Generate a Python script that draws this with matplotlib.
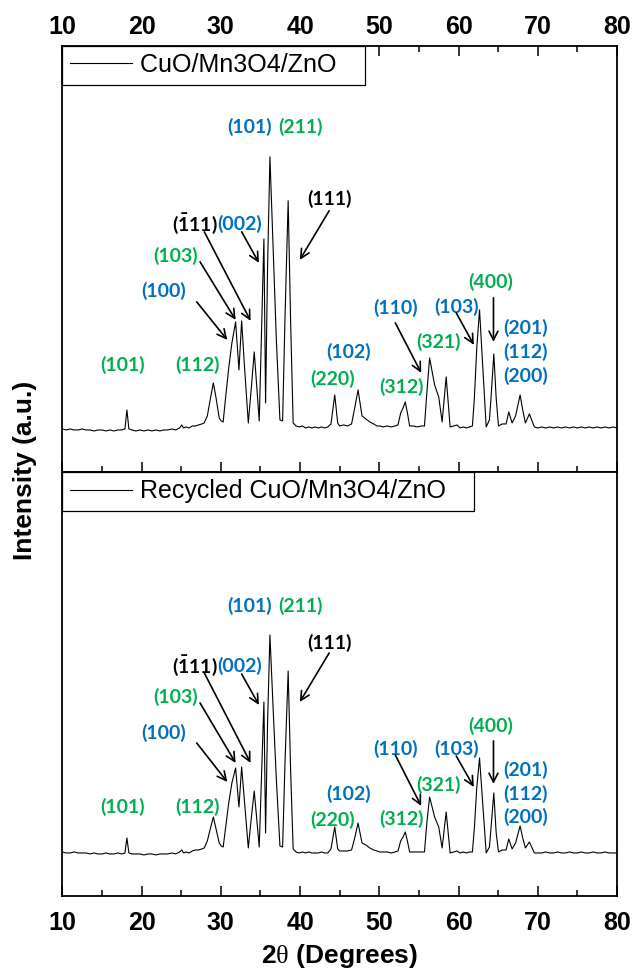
import matplotlib
matplotlib.use("Agg")
import matplotlib.pyplot as plt
from matplotlib.ticker import MultipleLocator

# XRD patterns: 2theta grid and intensities (a.u.) for fresh and recycled catalyst
two_theta = [10.0, 10.5, 11.0, 11.5, 12.0, 12.5, 13.0, 13.5, 14.0, 14.5, 15.0, 15.5,
             16.0, 16.5, 17.0, 17.5, 17.9, 18.15, 18.4, 18.8, 19.3, 19.8, 20.3, 20.8,
             21.3, 21.8, 22.3, 22.8, 23.3, 23.8, 24.3, 24.8, 25.07, 25.3, 25.6, 26.0,
             26.4, 26.8, 27.2, 27.6, 27.9, 28.3, 28.7, 29.06, 29.4, 29.8, 30.05, 30.3,
             30.6, 31.0, 31.4, 31.87, 32.29, 32.63, 33.0, 33.47, 33.85, 34.22, 34.55, 34.85,
             35.15, 35.44, 35.65, 35.9, 36.2, 36.6, 37.0, 37.46, 37.8, 38.1, 38.5, 38.8,
             39.13, 39.5, 39.9, 40.3, 40.7, 41.1, 41.5, 41.9, 42.3, 42.7, 43.1, 43.5,
             43.9, 44.38, 44.75, 45.0, 45.5, 46.0, 46.5, 46.9, 47.32, 47.82, 48.3, 48.8,
             49.3, 49.7, 50.05, 50.5, 51.0, 51.5, 52.0, 52.36, 52.7, 53.0, 53.28, 53.55,
             53.83, 54.3, 54.8, 55.3, 55.7, 56.0, 56.35, 56.98, 57.5, 57.93, 58.44, 58.94,
             59.4, 59.8, 60.2, 60.6, 61.0, 61.4, 61.75, 62.0, 62.3, 62.65, 63.0, 63.49,
             63.9, 64.1, 64.45, 64.75, 65.04, 65.5, 66.0, 66.34, 66.76, 67.2, 67.77, 68.1,
             68.44, 68.94, 69.57, 70.0, 70.5, 71.0, 71.5, 72.0, 72.5, 73.0, 73.5, 74.0,
             74.5, 75.0, 75.5, 76.0, 76.5, 77.0, 77.5, 78.0, 78.5, 79.0, 79.5, 80.0]

fresh = [39, 38, 39, 38, 38, 39, 38, 38, 37, 38, 38, 37,
         38, 37, 38, 38, 39, 58, 39, 38, 37, 38, 37, 38,
         37, 38, 37, 38, 38, 39, 38, 40, 43, 40, 41, 40,
         42, 42, 43, 44, 45, 52, 70, 85, 70, 50, 47, 46,
         70, 100, 125, 146, 98, 147, 100, 45, 80, 116, 80, 47,
         140, 229, 65, 200, 311, 220, 130, 48, 47, 150, 267, 150,
         45, 42, 41, 42, 40, 41, 40, 41, 40, 41, 40, 41,
         44, 73, 45, 42, 43, 42, 44, 60, 78, 52, 49, 46,
         44, 42, 42, 41, 42, 41, 42, 43, 55, 60, 66, 55,
         42, 42, 41, 42, 42, 75, 110, 83, 71, 46, 91, 41,
         42, 43, 40, 41, 40, 41, 42, 70, 120, 158, 110, 41,
         48, 70, 114, 70, 42, 44, 44, 56, 45, 52, 73, 58,
         45, 54, 41, 40, 41, 40, 41, 40, 41, 40, 41, 40,
         41, 40, 41, 40, 41, 40, 41, 40, 41, 40, 41, 40]

recycled = [41, 40, 40, 41, 40, 40, 40, 39, 40, 39, 39, 40,
            39, 39, 40, 39, 40, 55, 40, 39, 39, 39, 38, 39,
            39, 38, 39, 39, 39, 40, 39, 41, 43, 40, 41, 40,
            42, 43, 43, 44, 45, 52, 65, 76, 64, 50, 47, 46,
            65, 90, 110, 125, 86, 126, 90, 45, 75, 102, 72, 46,
            120, 191, 60, 170, 258, 185, 115, 47, 46, 130, 222, 125,
            44, 41, 40, 41, 40, 41, 40, 40, 40, 41, 40, 40,
            44, 66, 44, 42, 42, 42, 43, 55, 70, 50, 48, 45,
            43, 42, 41, 41, 41, 40, 41, 42, 52, 56, 61, 52,
            41, 41, 41, 41, 41, 70, 96, 76, 66, 45, 81, 40,
            41, 42, 40, 41, 40, 41, 41, 65, 105, 135, 95, 40,
            46, 65, 100, 60, 41, 43, 43, 54, 44, 50, 67, 55,
            45, 51, 40, 40, 40, 41, 40, 40, 41, 40, 40, 41,
            40, 40, 41, 40, 40, 41, 40, 40, 41, 40, 40, 40]

series_names = ["CuO/Mn3O4/ZnO", "Recycled CuO/Mn3O4/ZnO"]

# reflection labels: text, colour key
hkl_labels = ["(101)", "(211)", "(111)", r"$\mathbf{(\bar{1}11)}$", "(002)", "(103)",
              "(100)", "(101)", "(112)", "(220)", "(102)", "(110)", "(312)", "(321)",
              "(103)", "(400)", "(201)", "(112)", "(200)"]
hkl_colors = ["b", "g", "k", "k", "b", "g", "b", "g", "g", "g", "b", "b", "g", "g",
              "b", "g", "b", "b", "b"]

BLUE = "#0070C0"
GREEN = "#00B050"
cmap = {"b": BLUE, "g": GREEN, "k": "black"}

# label positions (2theta, intensity) in each panel
label_pos = [
    [(33.68, 341), (40.06, 341), (43.75, 269), (26.75, 244), (32.33, 244), (24.3, 212),
     (22.76, 177), (17.64, 103), (27.09, 103), (44.1, 89), (46.18, 116), (52.02, 160),
     (52.78, 81), (57.52, 126), (59.79, 161), (64.0, 186), (68.44, 140), (68.44, 116),
     (68.44, 92)],
    [(33.68, 287), (40.06, 287), (43.75, 250), (26.75, 227), (32.33, 227), (24.3, 196),
     (22.76, 160), (17.64, 86), (27.09, 86), (44.1, 73), (46.18, 99), (52.02, 144),
     (52.78, 74), (57.52, 108), (59.79, 144), (64.0, 167), (68.44, 123), (68.44, 99),
     (68.44, 76)],
]

# arrows (tail, head) in each panel
arrow_pos = [
    [((26.96, 166), (30.82, 128)), ((27.38, 206), (31.87, 148)),
     ((27.92, 236), (33.76, 147)), ((32.63, 236), (34.81, 205)),
     ((43.67, 257), (39.97, 208)), ((52.02, 145), (55.29, 95)),
     ((59.71, 155), (61.93, 123)), ((64.41, 170), (64.41, 126))],
    [((26.96, 150), (30.82, 111)), ((27.38, 190), (31.87, 130)),
     ((27.92, 220), (33.76, 130)), ((32.63, 219), (34.81, 188)),
     ((43.67, 240), (39.97, 191)), ((52.02, 138), (55.29, 87)),
     ((59.71, 137), (61.93, 106)), ((64.41, 152), (64.41, 109))],
]

plt.rcParams["font.family"] = ["Liberation Sans", "DejaVu Sans"]
plt.rcParams["mathtext.fontset"] = "custom"
plt.rcParams["mathtext.rm"] = "Liberation Serif"
plt.rcParams["mathtext.bf"] = "Lato:bold"

fig = plt.figure(figsize=(6.32, 9.76), dpi=100)
ax1 = fig.add_axes([0.0986, 0.5164, 0.8777, 0.4368])
ax2 = fig.add_axes([0.0986, 0.0820, 0.8777, 0.4344])

panels = [(ax1, fresh, (-4, 422)), (ax2, recycled, (-3, 421))]

for k, (ax, y, ylim) in enumerate(panels):
    ax.plot(two_theta, y, color="black", lw=0.8, label=series_names[k] + "   ")
    ax.set_xlim(10, 80)
    ax.set_ylim(*ylim)
    ax.set_yticks([])
    ax.xaxis.set_major_locator(MultipleLocator(10))
    ax.xaxis.set_minor_locator(MultipleLocator(5))
    for s in ax.spines.values():
        s.set_linewidth(1.3)

    leg = ax.legend(loc="upper left", borderaxespad=0, fancybox=False,
                    edgecolor="black", framealpha=1, fontsize=18,
                    handlelength=2.5, handletextpad=0.3, borderpad=0.3)
    leg.get_frame().set_linewidth(0.9)

    for txt, c, (px, py) in zip(hkl_labels, hkl_colors, label_pos[k]):
        ax.text(px, py, txt, color=cmap[c], fontsize=14, fontweight="bold",
                family="Lato", ha="center", va="center")

    for tail, head in arrow_pos[k]:
        ax.annotate("", xy=head, xytext=tail,
                    arrowprops=dict(arrowstyle="->", color="black", lw=1.2,
                                    mutation_scale=16, shrinkA=0, shrinkB=0))

tick_font = {"family": ["Liberation Sans Narrow", "Liberation Sans"],
             "weight": "bold", "size": 18}

ax1.tick_params(axis="x", which="both", direction="in", top=True, bottom=True,
                labeltop=True, labelbottom=False, width=1.1, pad=5)
ax1.tick_params(axis="x", which="major", length=7)
ax1.tick_params(axis="x", which="minor", length=4)
ax2.tick_params(axis="x", which="both", direction="in", top=False, bottom=True,
                labelbottom=True, width=1.1, pad=11)
ax2.tick_params(axis="x", which="major", length=7)
ax2.tick_params(axis="x", which="minor", length=4)

for ax in (ax1, ax2):
    for lab in ax.get_xticklabels():
        lab.set_fontproperties(matplotlib.font_manager.FontProperties(**tick_font))

ax2.set_xlabel(r"2$\mathrm{\theta}$ (Degrees)", fontsize=19, fontweight="bold", labelpad=5)
fig.text(25 / 632, 1 - 470 / 976, "Intensity (a.u.)", rotation=90, fontsize=19,
         fontweight="bold", ha="center", va="center")

fig.savefig("out.png", dpi=100)
